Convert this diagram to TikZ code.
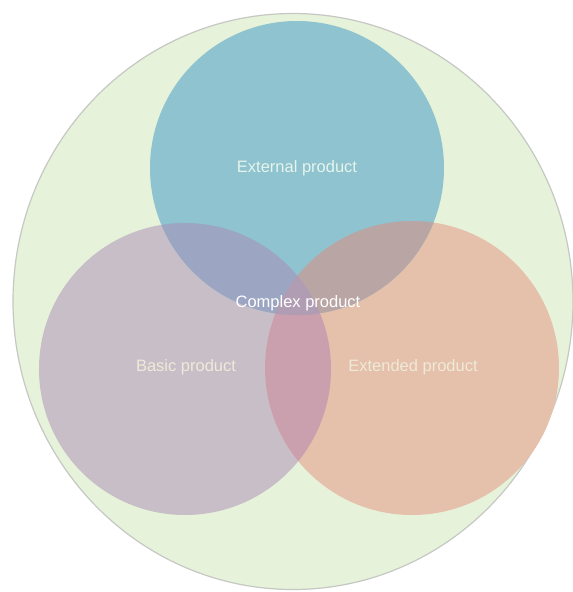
\documentclass[tikz,border=0pt]{standalone}
\usepackage{fontspec}
\setmainfont{Liberation Sans}
\usetikzlibrary{positioning}

\definecolor{bggreen}{HTML}{E6F2D9}
\definecolor{rimgray}{HTML}{C6C8C4}
\definecolor{extblue}{HTML}{8EC3CF}
\definecolor{baspurple}{HTML}{C8BEC8}
\definecolor{exdorange}{HTML}{E5C0AB}
\definecolor{bluepurple}{HTML}{9CA5C2}
\definecolor{blueorange}{HTML}{B8A5A4}
\definecolor{purpleorange}{HTML}{CAA0AF}
\definecolor{allthree}{HTML}{B09CB3}
\definecolor{paletext}{HTML}{EEEAD9}
\definecolor{minttext}{HTML}{E6F4EC}

\begin{document}
\begin{tikzpicture}[x=1pt,y=-1pt,
    lbl/.style={font=\fontsize{16.5}{18}\selectfont, inner sep=0pt}]
  \clip (0,0) rectangle (573,592);
  \fill[white] (0,0) rectangle (573,592);

  % centres of the sets
  \coordinate (all) at (293,301.5);
  \coordinate (ext) at (297,168);
  \coordinate (bas) at (185,369);
  \coordinate (exd) at (412,368);

  % outer set
  \filldraw[fill=bggreen, draw=rimgray, line width=1.2pt]
    (all) ellipse[x radius=280pt, y radius=288pt];

  % the three sets
  \fill[baspurple] (bas) circle[radius=146pt];
  \fill[exdorange] (exd) circle[radius=147pt];
  \fill[extblue] (ext) circle[radius=147pt];

  % overlaps
  \begin{scope}
    \clip (bas) circle[radius=146pt];
    \fill[purpleorange] (exd) circle[radius=147pt];
    \fill[bluepurple] (ext) circle[radius=147pt];
  \end{scope}
  \begin{scope}
    \clip (exd) circle[radius=147pt];
    \fill[blueorange] (ext) circle[radius=147pt];
  \end{scope}
  \begin{scope}
    \clip (bas) circle[radius=146pt];
    \clip (exd) circle[radius=147pt];
    \fill[allthree] (ext) circle[radius=147pt];
  \end{scope}

  % labels
  \node[lbl, text=minttext] (extlbl) at (ext) {External product};
  \node[lbl, text=paletext] (baslbl) at (186,367) {Basic product};
  \node[lbl, text=paletext] (exdlbl) at (413,367) {Extended product};
  \node[lbl, text=white] (cpxlbl) at (298,303) {Complex product};
\end{tikzpicture}
\end{document}
